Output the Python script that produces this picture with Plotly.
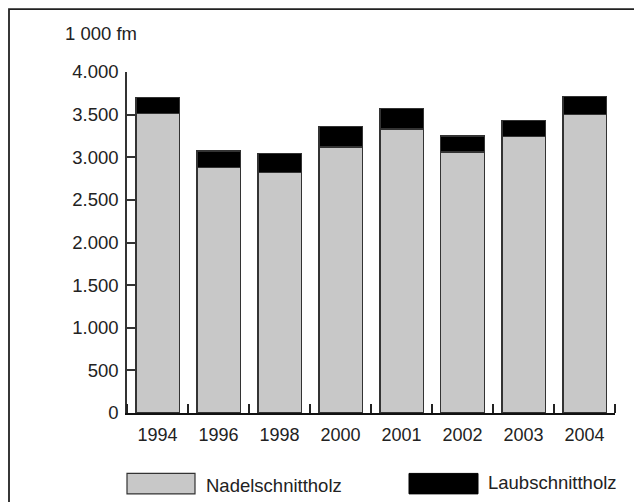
import plotly.graph_objects as go

years = ["1994", "1996", "1998", "2000", "2001", "2002", "2003", "2004"]
nadel = [3510, 2880, 2820, 3120, 3330, 3060, 3240, 3500]
laub = [195, 195, 225, 240, 245, 190, 190, 215]
y_ticks = [0, 500, 1000, 1500, 2000, 2500, 3000, 3500, 4000]
y_tick_text = ["0", "500", "1.000", "1.500", "2.000", "2.500", "3.000", "3.500", "4.000"]

OFF = 8  # page body margin
W, H = 642 - OFF, 502 - OFF
L, T = 127 - OFF, 72 - OFF
R = W - (615 - OFF)
B = H - (413.5 - OFF)
pw, ph = W - L - R, H - T - B

def px(x):
    return (x - OFF - L) / pw

def py(y):
    return (H - B - (y - OFF)) / ph

FONT = "Liberation Sans"
FS = 18.5
n = len(years)
idx = list(range(n))
boundaries = [i - 0.5 for i in range(n + 1)]

fig = go.Figure()
fig.add_trace(go.Bar(x=idx, y=nadel, name="Nadelschnittholz",
                     marker=dict(color="#c8c8c8", line=dict(color="#333333", width=1.3))))
fig.add_trace(go.Bar(x=idx, y=laub, name="Laubschnittholz",
                     marker=dict(color="#000000", line=dict(color="#333333", width=1.3))))

fig.update_layout(
    width=W, height=H, barmode="stack", bargap=0.29, showlegend=False,
    margin=dict(l=L, r=R, t=T, b=B, pad=0),
    paper_bgcolor="white", plot_bgcolor="white",
    font=dict(family=FONT, size=FS, color="#222222"),
    xaxis=dict(type="linear", range=[-0.5, n - 0.5], tickvals=idx, ticktext=years,
               showgrid=False, showline=True, linecolor="#111111", linewidth=2, zeroline=False,
               ticks="", tickfont=dict(size=18), ticklabelstandoff=4,
               minor=dict(tickvals=boundaries, ticks="inside", ticklen=9, tickwidth=1.5,
                          tickcolor="#222222", showgrid=False)),
    yaxis=dict(range=[0, 4000], showgrid=False, showline=True, linecolor="#333333", linewidth=1.5,
               ticks="inside", ticklen=9, tickwidth=1.5, tickcolor="#333333",
               tickvals=y_ticks, ticktext=y_tick_text, zeroline=False,
               tickfont=dict(size=FS), ticklabelstandoff=3),
)

shapes = [
    dict(type="rect", xref="paper", yref="paper", x0=px(9), x1=px(660), y0=py(520), y1=py(9),
         line=dict(color="#222222", width=1.8), fillcolor="rgba(0,0,0,0)", layer="below"),
    dict(type="rect", xref="paper", yref="paper", x0=px(127), x1=px(195), y0=py(494.5), y1=py(474),
         line=dict(color="#333333", width=1.2), fillcolor="#c8c8c8"),
    dict(type="rect", xref="paper", yref="paper", x0=px(409), x1=px(478), y0=py(494.5), y1=py(474),
         line=dict(color="#000000", width=1), fillcolor="#000000"),
]
fig.update_layout(shapes=shapes)

fig.add_annotation(text="1 000 fm", xref="paper", yref="paper", x=px(63), y=py(33),
                   xanchor="left", yanchor="middle", showarrow=False, font=dict(size=FS))
fig.add_annotation(text="Nadelschnittholz", xref="paper", yref="paper", x=px(204), y=py(486),
                   xanchor="left", yanchor="middle", showarrow=False, font=dict(size=FS))
fig.add_annotation(text="Laubschnittholz", xref="paper", yref="paper", x=px(486), y=py(483),
                   xanchor="left", yanchor="middle", showarrow=False, font=dict(size=FS))

fig.write_html("out.html")
